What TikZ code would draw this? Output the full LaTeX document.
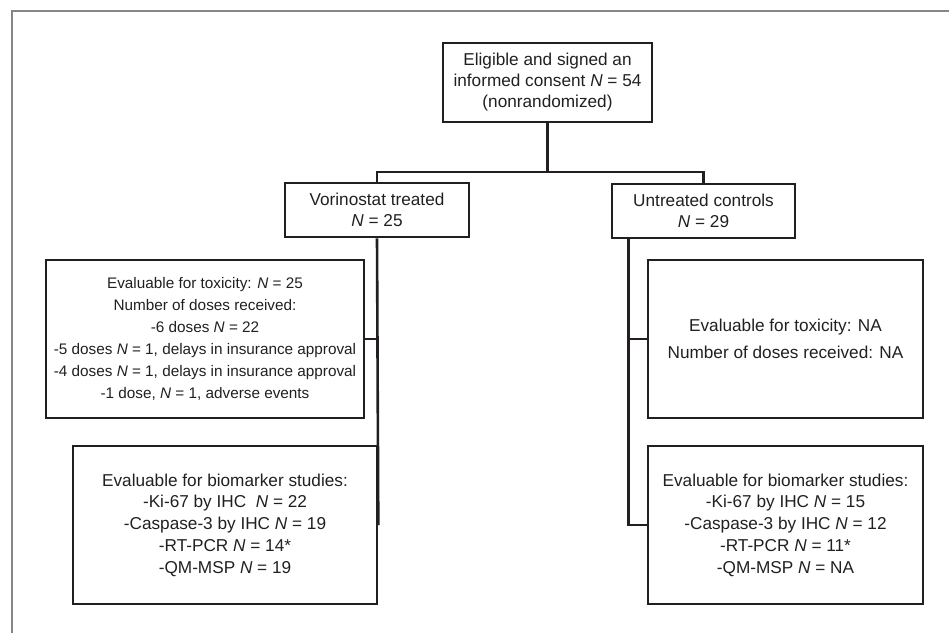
\documentclass[tikz,border=0pt]{standalone}
\usepackage{fontspec}
\setmainfont{Liberation Sans}
\definecolor{ink}{RGB}{35,31,32}
\definecolor{framegray}{RGB}{134,134,134}
\begin{document}
\begin{tikzpicture}[x=1pt,y=-1pt,
  box/.style={draw=ink,line width=2.6pt,inner sep=0pt,align=center,text=ink,
    font=\fontsize{17.2}{21}\selectfont},
  conn/.style={draw=ink,line width=2.6pt}]
\useasboundingbox (0,0) rectangle (949,633);
\draw[framegray,line width=2.5pt] (12,633) -- (12,11) -- (949,11);
\node[box,minimum width=209pt,minimum height=79pt] (top) at (547.5,82.5)
  {Eligible and signed an\\informed consent \textit{N} = 54\\(nonrandomized)};
\node[box,minimum width=184pt,minimum height=54pt] (vor) at (377,210)
  {Vorinostat treated\\\textit{N} = 25};
\node[box,minimum width=183pt,minimum height=54pt] (unt) at (703.5,211)
  {Untreated controls\\\textit{N} = 29};
\node[box,minimum width=318pt,minimum height=158pt,
  font=\fontsize{15.3}{22}\selectfont] (toxL) at (205,339)
  {Evaluable for toxicity: \textit{N} = 25\\Number of doses received:\\-6 doses \textit{N} = 22\\-5 doses \textit{N} = 1, delays in insurance approval\\-4 doses \textit{N} = 1, delays in insurance approval\\-1 dose, \textit{N} = 1, adverse events};
\node[box,minimum width=275pt,minimum height=158pt,
  font=\fontsize{17.2}{27}\selectfont] (toxR) at (785.5,339)
  {Evaluable for toxicity: NA\\Number of doses received: NA};
\node[box,minimum width=304pt,minimum height=158pt,
  font=\fontsize{17.2}{21.7}\selectfont] (bioL) at (225,525)
  {Evaluable for biomarker studies:\\-Ki-67 by IHC\ \ \textit{N} = 22\\-Caspase-3 by IHC \textit{N} = 19\\-RT-PCR \textit{N} = 14*\\-QM-MSP \textit{N} = 19};
\node[box,minimum width=275pt,minimum height=158pt,
  font=\fontsize{17.2}{21.7}\selectfont] (bioR) at (785.5,525)
  {Evaluable for biomarker studies:\\-Ki-67 by IHC \textit{N} = 15\\-Caspase-3 by IHC \textit{N} = 12\\-RT-PCR \textit{N} = 11*\\-QM-MSP \textit{N} = NA};
\coordinate (split) at (547.5,172);
\coordinate (uL) at ([xshift=18pt]unt.south west);
\draw[conn] (top.south) -- (split);
\draw[conn] (vor.north) |- (split) -| (unt.north);
\draw[conn] (vor.south) -- (bioL.east);
\draw[conn] (toxL.east) -- (toxL.east -| vor.south);
\draw[conn] (uL) |- (bioR.west);
\draw[conn] (toxR.west) -- (toxR.west -| uL);
\end{tikzpicture}
\end{document}
